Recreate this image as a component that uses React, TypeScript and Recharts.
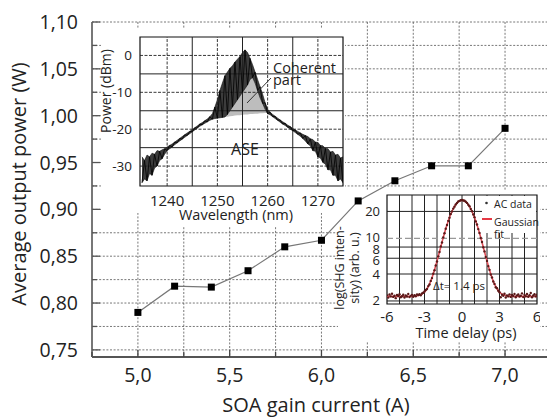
import React from 'react';
import {
  ComposedChart, Line, Area, Scatter, XAxis, YAxis, CartesianGrid, ReferenceLine, ReferenceArea,
} from 'recharts';

const FONT = '"Open Sans", "DejaVu Sans", sans-serif';
const TXT = '#222';

// ---------- main chart data ----------
const currents = [5.0, 5.2, 5.4, 5.6, 5.8, 6.0, 6.2, 6.4, 6.6, 6.8, 7.0];
const powers = [0.790, 0.818, 0.817, 0.8345, 0.860, 0.867, 0.909, 0.9305, 0.9465, 0.9465, 0.9865];
const mainXTicks = [4.75, 5.0, 5.25, 5.5, 5.75, 6.0, 6.25, 6.5, 6.75, 7.0];
const mainXLabels = [5.0, 5.5, 6.0, 6.5, 7.0];
const mainYTicks = [0.75, 0.775, 0.8, 0.825, 0.85, 0.875, 0.9, 0.925, 0.95, 0.975, 1.0, 1.025, 1.05, 1.075, 1.1];
const mainYLabels = [0.75, 0.8, 0.85, 0.9, 0.95, 1.0, 1.05, 1.1];

// ---------- spectrum inset data ----------
const specStart = 1235;
const specStep = 0.5;
const specHigh = [
  -27.5, -28.5, -27.0, -27.5, -26.5, -26.8, -25.8, -26.0, -25.6, -25.3,
  -24.8, -24.4, -24.0, -23.5, -23.0, -22.5, -22.0, -21.5, -21.0, -20.6,
  -20.1, -19.6, -19.1, -18.6, -18.2, -17.7, -17.2, -16.6, -15.8, -14.0,
  -12.0, -9.5, -7.5, -5.5, -4.5, -3.5, -2.8, -1.8, -1.0, -0.3,
  0.8, 1.5, 0.8, -0.8, -2.5, -4.5, -6.5, -8.5, -10.5, -12.8,
  -14.6, -15.4, -16.0, -16.5, -17.0, -17.5, -18.0, -18.4, -18.9, -19.3,
  -19.8, -20.2, -20.6, -21.0, -21.4, -21.7, -22.0, -22.6, -22.8, -23.5,
  -23.6, -24.4, -24.5, -25.2, -25.3, -26.2, -26.0, -27.0, -26.8, -27.8,
  -27.5,
];
const specLow = [
  -34.5, -33.5, -34.0, -32.0, -32.5, -30.5, -30.0, -28.5, -28.0, -26.8,
  -25.8, -25.3, -24.8, -24.2, -23.7, -23.2, -22.7, -22.2, -21.7, -21.2,
  -20.7, -20.2, -19.7, -19.2, -18.8, -18.4, -18.0, -17.6, -17.3, -17.1,
  -17.0, -16.9, -16.8, -16.7, -16.0, -15.0, -14.0, -13.0, -12.0, -11.0,
  -10.0, -9.0, -8.0, -6.5, -6.0, -7.5, -9.5, -11.5, -13.0, -14.6,
  -15.8, -16.1, -16.6, -17.1, -17.6, -18.1, -18.6, -19.0, -19.5, -20.0,
  -20.4, -20.9, -21.4, -21.9, -22.5, -23.2, -24.0, -24.5, -25.8, -26.0,
  -27.5, -27.8, -29.0, -29.5, -31.0, -31.0, -32.5, -32.5, -34.0, -33.5,
  -34.5,
];
const aseStartIndex = 28; // 1249 nm
const aseBase = [
  -17.2, -17.1, -17.0, -16.9, -16.8, -16.7, -16.6, -16.5, -16.4, -16.3,
  -16.2, -16.2, -16.1, -16.0, -16.0, -15.9, -15.9, -15.8, -15.8, -15.7,
  -15.7, -15.6, -15.6,
];
const specXLabels = [1240, 1250, 1260, 1270];
const specYLabels = [-30, -20, -10, 0];
const specXGrid = [1240, 1245, 1250, 1255, 1260, 1265, 1270];
const specYGrid = [-30, -25, -20, -15, -10, -5, 0];

// ---------- autocorrelation inset data ----------
const acStart = -6;
const acStep = 0.1;
const acValues = [
  2.31, 2.18, 2.36, 2.25, 2.41, 2.22, 2.29, 2.15, 2.33, 2.27,
  2.38, 2.20, 2.26, 2.35, 2.19, 2.30, 2.24, 2.40, 2.21, 2.28,
  2.34, 2.23, 2.32, 2.26, 2.37,
  2.33, 2.38, 2.31, 2.42, 2.47, 2.55,
  2.66, 2.72, 2.93, 3.06, 3.35, 3.60, 4.02, 4.40, 4.98, 5.52,
  6.30, 7.05, 8.10, 9.00, 10.25, 11.40, 12.80, 14.10, 15.70, 17.00,
  18.70, 20.00, 21.50, 22.60, 23.90, 24.80, 25.80, 26.20, 26.70, 26.80,
  26.50, 26.30, 25.60, 24.90, 23.70, 22.80, 21.30, 20.10, 18.50, 17.20,
  15.50, 14.30, 12.70, 11.50, 10.10, 9.10, 7.95, 7.15, 6.20, 5.60,
  4.90, 4.45, 3.95, 3.66, 3.30, 3.10, 2.85, 2.78, 2.60, 2.50,
  2.20, 2.35, 2.28, 2.41, 2.19, 2.30, 2.25, 2.37, 2.22, 2.33,
  2.27, 2.40, 2.20, 2.31, 2.36, 2.24, 2.29, 2.43, 2.21, 2.34,
  2.26, 2.39, 2.23, 2.32, 2.45, 2.20, 2.30, 2.38, 2.25, 2.35,
];
const fitStart = -6;
const fitStep = 0.25;
const fitValues = [
  2.25, 2.25, 2.25, 2.25, 2.25, 2.25, 2.25, 2.25, 2.25,
  2.27, 2.30, 2.37, 2.52, 2.81, 3.33, 4.20, 5.57, 7.55, 10.20, 13.47, 17.11, 20.74, 23.87, 25.99,
  26.75,
  25.99, 23.87, 20.74, 17.11, 13.47, 10.20, 7.55, 5.57, 4.20, 3.33, 2.81, 2.52, 2.37, 2.30, 2.27,
  2.25, 2.25, 2.25, 2.25, 2.25, 2.25, 2.25, 2.25, 2.25,
];
const acXLabels = [-6, -3, 0, 3, 6];
const acYLabels = [2, 4, 6, 8, 10, 20];
const acXGrid = [-5, -4, -3, -2, -1, 0, 1, 2, 3, 4, 5];
const acYGrid = [2, 4, 6, 8, 20];

// ---------- built tables ----------
const mainData = currents.map((c, i) => ({ current: c, power: powers[i] }));
const specData = specHigh.map((h, i) => {
  const j = i - aseStartIndex;
  return {
    wl: specStart + i * specStep,
    band: [specLow[i], h],
    zig: i % 2 === 0 ? specLow[i] : h,
    coherent: j >= 0 && j < aseBase.length ? [aseBase[j], specLow[i]] : null,
  };
});
const acData = acValues.map((v, i) => ({ t: acStart + i * acStep, v }));
const fitData = fitValues.map((v, i) => ({ t: fitStart + i * fitStep, fit: v }));

const isIn = (v: number, arr: number[]) => arr.some((a) => Math.abs(a - v) < 1e-6);

// ---------- main ticks ----------
const MainBottomTick = (props: any) => {
  const { x, y, payload } = props;
  const major = isIn(payload.value, mainXLabels);
  return (
    <g>
      <line x1={x} x2={x} y1={y} y2={y - (major ? 7 : 5)} stroke="#444" strokeWidth={1.3} />
      {major && (
        <text x={x} y={y + 25} textAnchor="middle" fontSize={19.5} fontFamily={FONT} fill={TXT}>
          {payload.value.toFixed(1).replace('.', ',')}
        </text>
      )}
    </g>
  );
};
const MainTopTick = (props: any) => {
  const { x, y, payload } = props;
  const major = isIn(payload.value, mainXLabels);
  return <line x1={x} x2={x} y1={y} y2={y + (major ? 7 : 5)} stroke="#555" strokeWidth={1.3} />;
};
const MainLeftTick = (props: any) => {
  const { x, y, payload } = props;
  const major = isIn(payload.value, mainYLabels);
  return (
    <g>
      <line x1={x} x2={x + (major ? 8 : 5)} y1={y} y2={y} stroke="#555" strokeWidth={1.3} />
      {major && (
        <text x={x - 14} y={y + 7} textAnchor="end" fontSize={19.5} fontFamily={FONT} fill={TXT}>
          {payload.value.toFixed(2).replace('.', ',')}
        </text>
      )}
    </g>
  );
};
const MainRightTick = (props: any) => {
  const { x, y } = props;
  return <line x1={x} x2={x - 6} y1={y} y2={y} stroke="#555" strokeWidth={1.3} />;
};
const SquareDot = (props: any) => {
  const { cx, cy } = props;
  return <rect x={cx - 3.5} y={cy - 3.5} width={7} height={7} fill="#000" />;
};

// ---------- inset ticks ----------
const SpecXTick = (props: any) => {
  const { x, y, payload } = props;
  return (
    <text x={x} y={y + 20} textAnchor="middle" fontSize={15} fontFamily={FONT} fill={TXT}>
      {payload.value}
    </text>
  );
};
const SpecYTick = (props: any) => {
  const { x, y, payload } = props;
  return (
    <text x={x - 8} y={y + 5} textAnchor="end" fontSize={13.5} fontFamily={FONT} fill={TXT}>
      {payload.value}
    </text>
  );
};
const AcXTick = (props: any) => {
  const { x, y, payload } = props;
  return (
    <text x={x} y={y + 18} textAnchor="middle" fontSize={15} fontFamily={FONT} fill={TXT}>
      {payload.value}
    </text>
  );
};
const acYLabelNudge: Record<number, number> = { 10: -1, 8: 2, 6: 2 };
const AcYTick = (props: any) => {
  const { x, y, payload } = props;
  const nudge = acYLabelNudge[payload.value] || 0;
  return (
    <text x={x - 7} y={y + 4.5 + nudge} textAnchor="end" fontSize={13} fontFamily={FONT} fill={TXT}>
      {payload.value}
    </text>
  );
};
const AcDot = (props: any) => {
  const { cx, cy } = props;
  return <circle cx={cx} cy={cy} r={1.2} fill="#5a1818" />;
};

const MAIN_X: [number, number] = [4.75, 7.234];
const MAIN_Y: [number, number] = [0.7424, 1.1];
const SPEC_X: [number, number] = [1234.6, 1275];
const SPEC_Y: [number, number] = [-35.4, 5];
const AC_X: [number, number] = [-6, 6];
const AC_Y: [number, number] = [1.85, 30.5];

function MainChart({ layer }: { layer: 'base' | 'series' }) {
  const base = layer === 'base';
  return (
    <ComposedChart width={550} height={417} data={mainData} margin={{ top: 22, right: 2, bottom: 0, left: 0 }}>
      {base && <CartesianGrid stroke="#555" strokeDasharray="2 1.6" strokeWidth={0.8} />}
      <XAxis
        dataKey="current" type="number" domain={MAIN_X} ticks={mainXTicks} interval={0}
        allowDataOverflow height={60} tickSize={0} tickMargin={0} tickLine={false}
        axisLine={base ? { stroke: '#555', strokeWidth: 2 } : false} tick={base ? <MainBottomTick /> : false}
      />
      <XAxis
        xAxisId="top" orientation="top" type="number" domain={MAIN_X} ticks={mainXTicks} interval={0}
        allowDataOverflow height={0} tickSize={0} tickMargin={0} tickLine={false}
        axisLine={base ? { stroke: '#888', strokeWidth: 2 } : false} tick={base ? <MainTopTick /> : false}
      />
      <YAxis
        type="number" domain={MAIN_Y} ticks={mainYTicks} interval={0} allowDataOverflow
        width={92} tickSize={0} tickMargin={0} tickLine={false}
        axisLine={base ? { stroke: '#777', strokeWidth: 2 } : false} tick={base ? <MainLeftTick /> : false}
      />
      <YAxis
        yAxisId="right" orientation="right" type="number" domain={MAIN_Y} ticks={mainYTicks}
        interval={0} allowDataOverflow width={0} tickSize={0} tickMargin={0} tickLine={false}
        axisLine={false} tick={base ? <MainRightTick /> : false}
      />
      {!base && (
        <Line
          dataKey="power" type="linear" stroke="#777" strokeWidth={1.2}
          dot={<SquareDot />} activeDot={false} isAnimationActive={false}
        />
      )}
    </ComposedChart>
  );
}

export default function App() {
  return (
    <div style={{ position: 'absolute', left: 0, top: 0, width: 547, height: 417, overflow: 'hidden', background: '#fff', fontFamily: FONT }}>
      <div style={{ position: 'absolute', left: 0, top: 0 }}>
        <MainChart layer="base" />
      </div>

      {/* spectrum inset */}
      <div style={{ position: 'absolute', left: 101, top: 28, width: 244, height: 185, background: '#fff' }}>
        <ComposedChart width={244} height={185} data={specData} margin={{ top: 9, right: 2, bottom: 0, left: 0 }}>
          {specXGrid.map((v) => (
            <ReferenceLine key={`sx${v}`} x={v} stroke="#222" strokeWidth={isIn(v, specXLabels) ? 0.9 : 1}
              strokeDasharray={isIn(v, specXLabels) ? '3 1.5' : undefined} />
          ))}
          {specYGrid.map((v) => (
            <ReferenceLine key={`sy${v}`} y={v} stroke="#222" strokeWidth={isIn(v, specYLabels) ? 0.9 : 1}
              strokeDasharray={isIn(v, specYLabels) ? '3 1.5' : undefined} />
          ))}
          <XAxis
            dataKey="wl" type="number" domain={SPEC_X} ticks={specXLabels} interval={0} allowDataOverflow
            height={27} tickSize={0} tickMargin={0} tickLine={false} axisLine={false} tick={<SpecXTick />}
          />
          <YAxis
            type="number" domain={SPEC_Y} ticks={specYLabels} interval={0} allowDataOverflow
            width={39} tickSize={0} tickMargin={0} tickLine={false} axisLine={false} tick={<SpecYTick />}
          />
          <Area dataKey="coherent" type="linear" stroke="none" fill="#bdbdbd" fillOpacity={1} isAnimationActive={false} />
          <Area dataKey="band" type="linear" stroke="#111" strokeWidth={0.6} fill="#111" fillOpacity={0.82} isAnimationActive={false} />
          <Line dataKey="zig" type="linear" stroke="#000" strokeWidth={0.8} dot={false} activeDot={false} isAnimationActive={false} />
          <ReferenceArea x1={SPEC_X[0]} x2={SPEC_X[1]} y1={SPEC_Y[0]} y2={SPEC_Y[1]} fill="none" stroke="#111" strokeWidth={1.2} />
        </ComposedChart>
      </div>

      {/* autocorrelation inset */}
      <div style={{ position: 'absolute', left: 338, top: 190, width: 202, height: 152, background: '#fff' }}>
        <ComposedChart width={202} height={152} data={fitData} margin={{ top: 5, right: 3, bottom: 0, left: 0 }}>
          {acXGrid.map((v) => (
            <ReferenceLine key={`ax${v}`} x={v} stroke="#222" strokeWidth={1} />
          ))}
          {acYGrid.map((v) => (
            <ReferenceLine key={`ay${v}`} y={v} stroke="#222" strokeWidth={1} />
          ))}
          <ReferenceLine y={10} stroke="#999" strokeWidth={1.2} strokeDasharray="6 3" />
          <XAxis
            dataKey="t" type="number" domain={AC_X} ticks={acXLabels} interval={0} allowDataOverflow
            height={38} tickSize={0} tickMargin={0} tickLine={false} axisLine={false} tick={<AcXTick />}
          />
          <YAxis
            type="number" scale="log" domain={AC_Y} ticks={acYLabels} interval={0} allowDataOverflow
            width={49} tickSize={0} tickMargin={0} tickLine={false} axisLine={false} tick={<AcYTick />}
          />
          <Line dataKey="fit" type="monotone" stroke="#e0505a" strokeWidth={1.6} dot={false} activeDot={false} isAnimationActive={false} />
          <Scatter data={acData} dataKey="v" shape={<AcDot />} isAnimationActive={false} />
          <ReferenceArea x1={AC_X[0]} x2={AC_X[1]} y1={AC_Y[0]} y2={AC_Y[1]} fill="none" stroke="#111" strokeWidth={1.2} />
        </ComposedChart>
      </div>

      {/* main series drawn above the inset backgrounds */}
      <div style={{ position: 'absolute', left: 0, top: 0 }}>
        <MainChart layer="series" />
      </div>

      {/* text overlay */}
      <svg width={547} height={417} style={{ position: 'absolute', left: 0, top: 0, pointerEvents: 'none' }} fontFamily={FONT} fill={TXT}>
        <text transform="translate(26,184) rotate(-90)" textAnchor="middle" fontSize={20}>Average output power (W)</text>
        <text x={316} y={412} textAnchor="middle" fontSize={20}>SOA gain current (A)</text>

        <rect x={176} y={207} width={122} height={19} fill="#fff" />
        <text x={236} y={220} textAnchor="middle" fontSize={14.5}>Wavelength (nm)</text>
        <text transform="translate(111,91) rotate(-90)" textAnchor="middle" fontSize={14}>Power (dBm)</text>
        <text fontSize={14.5}>
          <tspan x={273} y={73}>Coherent</tspan>
          <tspan x={273} y={85}>part</tspan>
        </text>
        <line x1={247} y1={103} x2={271} y2={78} stroke="#333" strokeWidth={1} />
        <text x={245} y={155} textAnchor="middle" fontSize={16}>ASE</text>

        <text transform="translate(344,268) rotate(-90)" textAnchor="middle" fontSize={12.5}>
          <tspan x={0} y={0}>log(SHG inten-</tspan>
          <tspan x={0} y={15}>sity) (arb. u.)</tspan>
        </text>
        <text x={466} y={338} textAnchor="middle" fontSize={14.5}>Time delay (ps)</text>

        <rect x={482} y={196} width={54} height={37} fill="#fff" />
        <circle cx={486.5} cy={203} r={1.3} fill="#333" />
        <text x={494} y={208} fontSize={10.5}>AC data</text>
        <line x1={482} x2={492} y1={219} y2={219} stroke="#e53945" strokeWidth={2} />
        <text fontSize={10.5}>
          <tspan x={494} y={226}>Gaussian</tspan>
          <tspan x={494} y={237.5}>fit</tspan>
        </text>
        <text x={433} y={290} fontSize={11.5}>Δt= 1.4 ps</text>
      </svg>
    </div>
  );
}
